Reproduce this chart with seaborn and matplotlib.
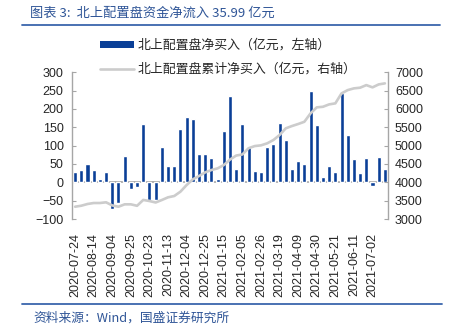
import numpy as np
import pandas as pd
import matplotlib
matplotlib.use("Agg")
import matplotlib.pyplot as plt
import seaborn as sns
from matplotlib.patches import Patch
from matplotlib.lines import Line2D

sns.set_style("white")
plt.rcParams['font.family'] = ['Liberation Sans', 'Noto Sans CJK SC', 'DejaVu Sans']

dates = ["2020-07-24", "2020-07-31", "2020-08-07", "2020-08-14", "2020-08-21", "2020-08-28",
         "2020-09-04", "2020-09-11", "2020-09-18", "2020-09-25", "2020-10-09", "2020-10-16",
         "2020-10-23", "2020-10-30", "2020-11-06", "2020-11-13", "2020-11-20", "2020-11-27",
         "2020-12-04", "2020-12-11", "2020-12-18", "2020-12-25", "2021-01-01", "2021-01-08",
         "2021-01-15", "2021-01-22", "2021-01-29", "2021-02-05", "2021-02-12", "2021-02-19",
         "2021-02-26", "2021-03-05", "2021-03-12", "2021-03-19", "2021-03-26", "2021-04-02",
         "2021-04-09", "2021-04-16", "2021-04-23", "2021-04-30", "2021-05-07", "2021-05-14",
         "2021-05-21", "2021-05-28", "2021-06-04", "2021-06-11", "2021-06-18", "2021-06-25",
         "2021-07-02", "2021-07-09", "2021-07-16"]
net_buy = [27, 34, 51, 34, 8, 29, -73, -57, 73, -19, -12, 160, -48, -48, 97, 45, 45,
           145, 178, 172, 78, 77, 66, 9, 139, 236, 35, 158, 97, 31, 29, 96, 105, 161,
           116, 36, 59, 51, 250, 156, 15, 45, 28, 243, 128, 63, 25, 66, -10, 69, 35.99]
cum_buy = [3335, 3362, 3409, 3436, 3436, 3455, 3370, 3335, 3400, 3400, 3360, 3520, 3490,
           3450, 3518, 3591, 3627, 3745, 3926, 4082, 4172, 4272, 4335, 4381, 4471, 4620,
           4730, 4760, 4930, 4989, 5008, 5063, 5153, 5290, 5472, 5535, 5590, 5651, 5880,
           6044, 6060, 6125, 6153, 6425, 6515, 6562, 6580, 6651, 6589, 6670, 6698]
tick_labels = ["2020-07-24", "2020-08-14", "2020-09-04", "2020-09-25", "2020-10-23",
               "2020-11-13", "2020-12-04", "2020-12-25", "2021-01-15", "2021-02-05",
               "2021-02-26", "2021-03-19", "2021-04-09", "2021-04-30", "2021-05-21",
               "2021-06-11", "2021-07-02"]
title = "图表 3:  北上配置盘资金净流入 35.99 亿元"
source = "资料来源：Wind，国盛证券研究所"
legend_bar = "北上配置盘净买入（亿元，左轴）"
legend_line = "北上配置盘累计净买入（亿元，右轴）"

df = pd.DataFrame({"date": dates, "net": net_buy, "cum": cum_buy})
df["pos"] = np.arange(len(df))

bar_color = "#0A3F97"
line_color = "#CCCCCC"
axis_color = "#A6A6A6"
blue_title = "#2F5597"
cjk = ['Noto Sans CJK SC', 'DejaVu Sans']

fig = plt.figure(figsize=(4.51, 3.26), dpi=100)
ax = fig.add_axes([72/451, 1-219/326, 316/451, (219-72.3)/326])

sns.barplot(data=df, x="date", y="net", ax=ax, color=bar_color, width=0.65,
            saturation=1, zorder=2)
ax2 = ax.twinx()
sns.lineplot(data=df, x="pos", y="cum", ax=ax2, color=line_color, linewidth=1.9)

ax.set_xlim(-0.5, len(df) - 0.5)
ax.set_ylim(-100, 300)
ax2.set_ylim(3000, 7000)
ax.set_yticks(np.arange(-100, 301, 50))
ax2.set_yticks(np.arange(3000, 7001, 500))
ax.axhline(0, color=axis_color, lw=1.3, zorder=1)

tick_pos = [dates.index(t) for t in tick_labels]
ax.set_xticks(tick_pos)
ax.set_xticklabels(tick_labels, rotation=90, fontsize=9)
ax.tick_params(axis="x", length=0, pad=10)
ax.set_xlabel("")
ax.set_ylabel("")
ax2.set_xlabel("")
ax2.set_ylabel("")

for a in (ax, ax2):
    for s in ("top", "bottom"):
        a.spines[s].set_visible(False)
ax.spines["right"].set_visible(False)
ax2.spines["left"].set_visible(False)
ax.spines["left"].set_color(axis_color)
ax2.spines["right"].set_color(axis_color)
ax.spines["left"].set_linewidth(1.0)
ax2.spines["right"].set_linewidth(1.0)
ax.tick_params(axis="y", direction="in", length=3, color=axis_color, labelsize=9, pad=6)
ax2.tick_params(axis="y", direction="in", length=3, color=axis_color, labelsize=9, pad=5)
ax2.grid(False)
ax.grid(False)

handles = [Patch(facecolor=bar_color, edgecolor="none"),
           Line2D([0], [0], color=line_color, lw=1.9)]
leg = fig.legend(handles, [legend_bar, legend_line], loc="upper left",
                 bbox_to_anchor=(100/451, 1-39/326), frameon=False,
                 prop={"family": cjk, "size": 9.3}, handlelength=2.6,
                 handleheight=0.55, labelspacing=0.85, handletextpad=0.32,
                 borderaxespad=0, borderpad=0)

fig.text(30/451, 1-13/326, title, fontsize=9.5, color=blue_title, style="italic",
         family=cjk, va="center", ha="left")
fig.add_artist(Line2D([22/451, 440/451], [1-25/326, 1-25/326], color="#3A66AD", lw=1.3))
fig.add_artist(Line2D([22/451, 442/451], [1-304/326, 1-304/326], color="#3A66AD", lw=1.3))
fig.text(33/451, 1-318/326, source, fontsize=9.2, color=blue_title, style="italic",
         family=cjk, va="center", ha="left")

fig.savefig("out.png", dpi=100)
